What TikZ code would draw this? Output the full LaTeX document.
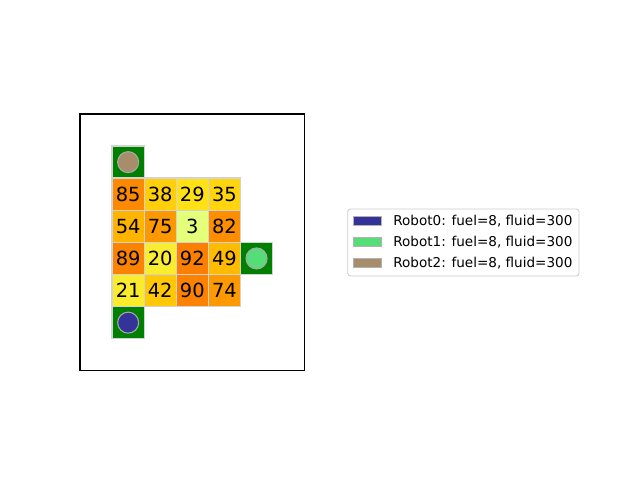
\documentclass[tikz,border=0pt]{standalone}
\usepackage{fontspec}
\setmainfont{DejaVu Sans}
\usepackage{tikz}
\usetikzlibrary{positioning}
\definecolor{cellgray}{RGB}{211,211,211}
\definecolor{dockgreen}{RGB}{0,128,0}
\definecolor{legendgray}{RGB}{204,204,204}
\definecolor{robotzero}{RGB}{51,51,153}
\definecolor{robotone}{RGB}{87,221,119}
\definecolor{robottwo}{RGB}{168,141,107}
\definecolor{v3}{RGB}{228,255,122}
\definecolor{v20}{RGB}{249,237,49}
\definecolor{v21}{RGB}{250,236,44}
\definecolor{v29}{RGB}{255,225,22}
\definecolor{v35}{RGB}{255,213,15}
\definecolor{v38}{RGB}{255,207,11}
\definecolor{v42}{RGB}{255,200,6}
\definecolor{v49}{RGB}{255,187,0}
\definecolor{v54}{RGB}{255,181,0}
\definecolor{v74}{RGB}{254,154,0}
\definecolor{v75}{RGB}{254,152,0}
\definecolor{v82}{RGB}{253,142,0}
\definecolor{v85}{RGB}{253,137,0}
\definecolor{v89}{RGB}{252,131,0}
\definecolor{v90}{RGB}{252,130,0}
\definecolor{v92}{RGB}{252,127,0}
\tikzstyle{cell}=[rectangle, minimum size=0.321in, inner sep=0pt, draw=cellgray,
    line width=1pt, font=\fontsize{14.05}{14.05}\selectfont]
\tikzstyle{dock}=[cell, fill=dockgreen]
\tikzstyle{robot}=[circle, minimum size=0.21in, inner sep=0pt, draw=gray!70, line width=0.8pt]
\tikzstyle{patch}=[rectangle, minimum width=0.278in, minimum height=0.085in, inner sep=0pt,
    draw=gray!60, line width=0.5pt]
\tikzstyle{legendtext}=[anchor=west, inner sep=0pt, font=\fontsize{9.8}{12}\selectfont]

\begin{document}
\begin{tikzpicture}[x=0.321in, y=-0.321in]
          \useasboundingbox (-2.492,-3.551) rectangle (17.445,11.402);
          \draw[line width=0.75pt] (0,0) rectangle (7,8);
          % docks and robots
          \node[dock] (dock2) at (1.5,1.5){};
          \node[robot, fill=robottwo] (robot2) at (dock2){};
          \node[dock] (dock1) at (5.5,4.5){};
          \node[robot, fill=robotone] (robot1) at (dock1){};
          \node[dock] (dock0) at (1.5,6.5){};
          \node[robot, fill=robotzero] (robot0) at (dock0){};
          % field
          \node[cell, fill=v85] (c12) at (1.5,2.5){85};
          \node[cell, fill=v38] (c22) at (2.5,2.5){38};
          \node[cell, fill=v29] (c32) at (3.5,2.5){29};
          \node[cell, fill=v35] (c42) at (4.5,2.5){35};
          \node[cell, fill=v54] (c13) at (1.5,3.5){54};
          \node[cell, fill=v75] (c23) at (2.5,3.5){75};
          \node[cell, fill=v3] (c33) at (3.5,3.5){3};
          \node[cell, fill=v82] (c43) at (4.5,3.5){82};
          \node[cell, fill=v89] (c14) at (1.5,4.5){89};
          \node[cell, fill=v20] (c24) at (2.5,4.5){20};
          \node[cell, fill=v92] (c34) at (3.5,4.5){92};
          \node[cell, fill=v49] (c44) at (4.5,4.5){49};
          \node[cell, fill=v21] (c15) at (1.5,5.5){21};
          \node[cell, fill=v42] (c25) at (2.5,5.5){42};
          \node[cell, fill=v90] (c35) at (3.5,5.5){90};
          \node[cell, fill=v74] (c45) at (4.5,5.5){74};
          % legend
          \node[rectangle, rounded corners=2pt, draw=legendgray, fill=white, line width=0.6pt,
                minimum width=2.313in, minimum height=0.67in] (legend) at (11.943,4.003){};
          \node[patch, fill=robotzero] (p0) at (8.941,3.333){};
          \node[patch, fill=robotone] (p1) at (8.941,3.988){};
          \node[patch, fill=robottwo] (p2) at (8.941,4.632){};
          \node[legendtext] (l0) at (9.751,3.333){Robot0: fuel=8, fluid=300};
          \node[legendtext] (l1) at (9.751,3.988){Robot1: fuel=8, fluid=300};
          \node[legendtext] (l2) at (9.751,4.632){Robot2: fuel=8, fluid=300};
        \end{tikzpicture}
\end{document}
